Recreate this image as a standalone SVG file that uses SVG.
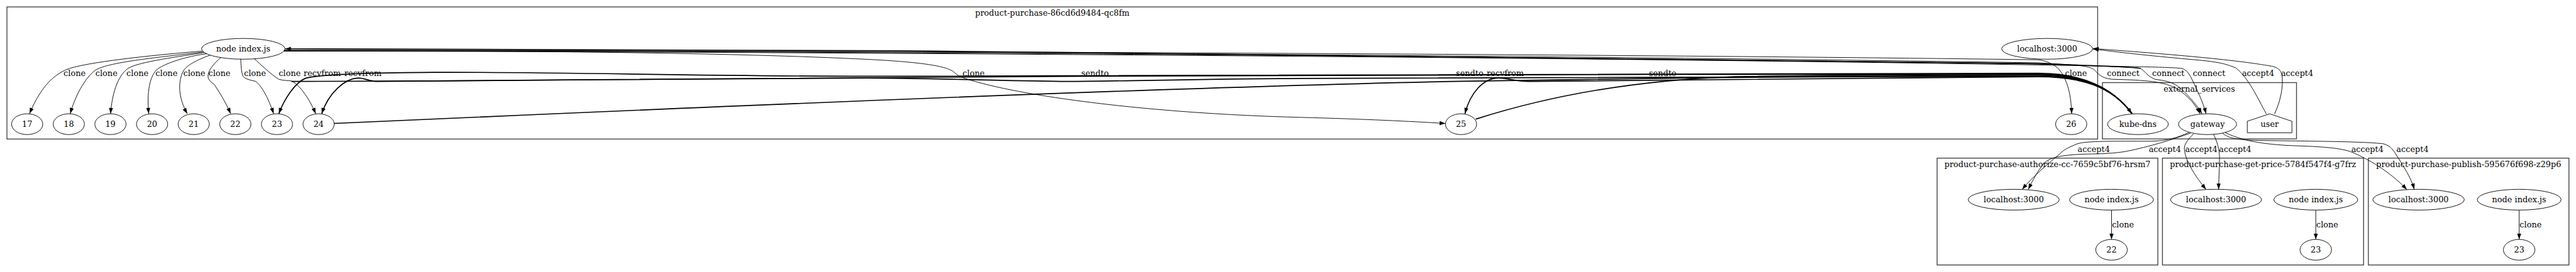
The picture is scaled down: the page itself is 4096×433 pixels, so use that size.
<svg xmlns="http://www.w3.org/2000/svg" width="4096" height="433" viewBox="0 0 4096 433">
<defs>
<style>
.cl{fill:none;stroke:#444;stroke-width:2}
.nd{fill:none;stroke:#000;stroke-width:1.33}
.t{font-family:'DejaVu Serif',serif;font-size:18.67px;fill:#000;text-anchor:middle}
.ts{font-family:'DejaVu Serif',serif;font-size:18.67px;fill:#000;text-anchor:start}
.e{fill:none;stroke:#000;stroke-width:1.33}
.b{stroke-width:2.4}
.a{marker-end:url(#ah)}
</style>
<marker id="ah" markerUnits="userSpaceOnUse" markerWidth="14" markerHeight="10" refX="13.3" refY="4.67" orient="auto" overflow="visible"><path d="M0,0 L13.3,4.67 L0,9.33 z" fill="#000"/></marker>
</defs>
<rect width="4096" height="433" fill="#fff"/>
<g transform="scale(0.68956)">
<g id="cluster_main">
<rect class="cl" x="16" y="16" width="4821" height="305"/>
<text class="t" x="2426.5" y="37">product-purchase-86cd6d9484-qc8fm</text>
</g>
<g id="cluster_external">
<rect class="cl" x="4848" y="190.7" width="447.5" height="130"/>
<text class="t" x="5071.5" y="211.7">external_services</text>
</g>
<g id="cluster_authorize">
<rect class="cl" x="4466.8" y="365" width="509" height="246.7"/>
<text class="t" x="4721.3" y="386">product-purchase-authorize-cc-7659c5bf76-hrsm7</text>
</g>
<g id="cluster_getprice">
<rect class="cl" x="4986.4" y="365" width="463.8" height="246.7"/>
<text class="t" x="5218.3" y="386">product-purchase-get-price-5784f547f4-g7frz</text>
</g>
<g id="cluster_publish">
<rect class="cl" x="5461.2" y="365" width="462.5" height="246.7"/>
<text class="t" x="5692.5" y="386">product-purchase-publish-595676f698-z29p6</text>
</g>

<g id="connectors">
<path class="e a" d="M466,118 C380,125 220,140 160,158 C115,174 88,215 68,262.5"/>
<path class="e a" d="M469,120 C390,130 250,142 220,162 C195,180 172,225 162,262.5"/>
<path class="e a" d="M472,121 C420,130 320,142 295,158 C270,176 258,220 255,262.5"/>
<path class="e a" d="M477,124 C430,130 385,145 365,158 C345,172 338,215 343,262.5"/>
<path class="e a" d="M485,127 C455,138 432,150 424,162 C410,185 410,225 432,262.5"/>
<path class="e a" d="M509,133 C495,145 482,160 480,172 C478,185 488,190 494,195 C508,215 522,240 532,262.5"/>
<path class="e a" d="M555,136 C556,150 556,165 560,175 C565,183 575,184 590,188 C605,200 620,230 631,262.5"/>
<path class="e a" d="M587,136 C600,148 625,172 643,183 C655,187 665,185 672,187 C690,195 712,225 728,262.5"/>
<path class="e a" d="M655,118 C1200,116 1700,122 2000,137 C2120,143 2180,152 2198,165 C2206,172 2210,176 2225,181 C2350,222 2650,262 3000,271 C3150,275 3250,280 3333,285"/>
<path class="e a" d="M654,117 C1500,116 3500,122 4700,138 C4720,140 4738,150 4748,160 C4768,185 4776,220 4777,262.5"/>
<path class="e a" d="M655,116 C1500,115 3500,126 4700,145 C4790,150 4815,152 4828,160 C4840,172 4845,180 4870,183 C4950,185 4990,188 5020,205 C5045,220 5065,245 5073,262.5"/>
<path class="e a" d="M655,117 C1500,117 3500,128 4700,148 C4850,153 4925,155 4936,158 C4945,163 4950,175 4969,183 C4990,186 5010,188 5030,205 C5050,225 5068,245 5077,262.5"/>
<path class="e a" d="M655,118 C1500,118 3500,130 4700,150 C4900,153 5010,155 5032,158 C5042,162 5046,168 5052,178 C5065,205 5080,235 5087,262.5"/>
<path class="e b a" d="M4936,158 C4925,155 4850,152 4700,147 C3500,125 2000,113 657.5,112.7"/>
<path class="e b" d="M672,188 L1000,187 C1500,183 2000,178 2500,176 C3000,173 4000,171 4700,171 C4800,171 4870,200 4916,262"/>
<path class="e b" d="M770,285 C1600,248 2600,205 3300,189 C3600,184 4000,176 4700,174 C4800,174 4870,200 4916,262"/>
<path class="e b a" d="M3403,275 C3600,212 3800,184 4000,177 C4300,172 4600,172 4700,172 C4800,172 4870,200 4916,262.5"/>
<path class="e b a" d="M4916,262 C4870,200 4800,169 4700,169 C3500,170 2500,176 2000,176 C1600,176 1300,166 1000,167 C850,168 740,172 706,180 C680,190 655,230 643,262.5"/>
<path class="e b a" d="M4916,262 C4870,200 4800,176 4700,176 C4000,176 3300,180 3000,181 C2700,183 2520,189 2446,188 C2300,186 2100,180 2000,180 C1600,182 1300,186 1100,186 L867,188 C850,187 840,180 826,180 C795,181 757,215 742,262.5"/>
<path class="e b a" d="M4916,262 C4870,200 4800,177 4700,177 C4200,178 3800,184 3525,188 C3495,188 3475,180 3456,180 C3420,180 3390,215 3378,262.5"/>
<path class="e a" d="M5226,263 C5205,225 5185,180 5156,157 C5130,146 5110,142 5050,137 C4950,128 4880,120 4826,113"/>
<path class="e a" d="M5245,263 C5258,235 5266,200 5262,172 C5258,160 5250,155 5239,153 C5150,137 5000,125 4826,112"/>
<path class="e a" d="M5049,305 C5020,318 5000,325 4960,326 C4880,326 4810,325 4790,332 C4770,340 4760,345 4750,355 C4720,380 4685,410 4663,437.4"/>
<path class="e a" d="M5052,307 C5010,322 4960,338 4900,350 C4860,356 4830,355 4800,356 C4760,358 4730,362 4715,375 C4700,392 4688,415 4677,437.1"/>
<path class="e a" d="M5058,309 C5045,322 5035,335 5037,345 C5040,375 5065,410 5087,437.6"/>
<path class="e a" d="M5104,310 C5112,325 5118,345 5118,365 C5118,390 5116,415 5116,437.2"/>
<path class="e a" d="M5131,306 C5160,320 5200,332 5280,336 C5340,338 5390,340 5420,350 C5470,370 5520,405 5550,437.8"/>
<path class="e a" d="M5125,308 C5140,318 5150,322 5200,324 C5300,326 5450,326 5496,332 C5510,336 5515,342 5522,352 C5540,380 5560,410 5567,437.1"/>
<path class="e a" d="M4869,485 L4869,552.7"/>
<path class="e a" d="M5340,485 L5340,552.7"/>
<path class="e a" d="M5809,485 L5809,552.7"/>
<g id="edge_labels">
<text class="t" x="172" y="175">clone</text>
<text class="t" x="245.5" y="175">clone</text>
<text class="t" x="317" y="175">clone</text>
<text class="t" x="384" y="175">clone</text>
<text class="t" x="448" y="175">clone</text>
<text class="t" x="506" y="175">clone</text>
<text class="t" x="588" y="175">clone</text>
<text class="t" x="668" y="175">clone</text>
<text class="t" x="743" y="175">recvfrom</text>
<text class="t" x="837" y="175">recvfrom</text>
<text class="t" x="2245" y="175">clone</text>
<text class="t" x="2525" y="175">sendto</text>
<text class="t" x="3389" y="175">sendto</text>
<text class="t" x="3471" y="175">recvfrom</text>
<text class="t" x="3834" y="175">sendto</text>
<text class="t" x="4787" y="175">clone</text>
<text class="t" x="4896" y="175">connect</text>
<text class="t" x="5000" y="175">connect</text>
<text class="t" x="5094" y="175">connect</text>
<text class="t" x="5207" y="175">accept4</text>
<text class="t" x="5297" y="175">accept4</text>
<text class="t" x="4828" y="351">accept4</text>
<text class="t" x="4992" y="351">accept4</text>
<text class="t" x="5076" y="351">accept4</text>
<text class="t" x="5154" y="351">accept4</text>
<text class="t" x="5459" y="351">accept4</text>
<text class="t" x="5563" y="351">accept4</text>
<text class="ts" x="4870" y="525">clone</text>
<text class="ts" x="5341" y="525">clone</text>
<text class="ts" x="5810" y="525">clone</text>
</g>
</g>

<g id="main_node_index"><ellipse class="nd" cx="561" cy="112.7" rx="96.3" ry="24"/><text class="t" x="561" y="118.5">node index.js</text></g>
<g id="main_localhost"><ellipse class="nd" cx="4720.6" cy="112.7" rx="105" ry="24"/><text class="t" x="4720.6" y="118.5">localhost:3000</text></g>
<g id="n17"><ellipse class="nd" cx="62.7" cy="286.7" rx="36" ry="24"/><text class="t" x="62.7" y="292.5">17</text></g>
<g id="n18"><ellipse class="nd" cx="158.7" cy="286.7" rx="36" ry="24"/><text class="t" x="158.7" y="292.5">18</text></g>
<g id="n19"><ellipse class="nd" cx="254.7" cy="286.7" rx="36" ry="24"/><text class="t" x="254.7" y="292.5">19</text></g>
<g id="n20"><ellipse class="nd" cx="350.7" cy="286.7" rx="36" ry="24"/><text class="t" x="350.7" y="292.5">20</text></g>
<g id="n21"><ellipse class="nd" cx="446.7" cy="286.7" rx="36" ry="24"/><text class="t" x="446.7" y="292.5">21</text></g>
<g id="n22"><ellipse class="nd" cx="542.7" cy="286.7" rx="36" ry="24"/><text class="t" x="542.7" y="292.5">22</text></g>
<g id="n23"><ellipse class="nd" cx="638.7" cy="286.7" rx="36" ry="24"/><text class="t" x="638.7" y="292.5">23</text></g>
<g id="n24"><ellipse class="nd" cx="734.7" cy="286.7" rx="36" ry="24"/><text class="t" x="734.7" y="292.5">24</text></g>
<g id="n25"><ellipse class="nd" cx="3369" cy="286.7" rx="36" ry="24"/><text class="t" x="3369" y="292.5">25</text></g>
<g id="n26"><ellipse class="nd" cx="4776" cy="286.7" rx="36" ry="24"/><text class="t" x="4776" y="292.5">26</text></g>
<g id="kube_dns"><ellipse class="nd" cx="4930" cy="286.7" rx="70" ry="24"/><text class="t" x="4930" y="292.5">kube-dns</text></g>
<g id="gateway"><ellipse class="nd" cx="5090.4" cy="286.7" rx="67" ry="24"/><text class="t" x="5090.4" y="292.5">gateway</text></g>
<g id="user"><polygon class="nd" points="5285,306.5 5285,280 5233.6,262.7 5182,280 5182,306.5"/><text class="t" x="5233.6" y="292.5">user</text></g>
<g id="auth_localhost"><ellipse class="nd" cx="4643.5" cy="461" rx="105" ry="24"/><text class="t" x="4643.5" y="466.8">localhost:3000</text></g>
<g id="auth_node"><ellipse class="nd" cx="4869" cy="461" rx="96.8" ry="24"/><text class="t" x="4869" y="466.8">node index.js</text></g>
<g id="auth_22"><ellipse class="nd" cx="4869" cy="576.7" rx="36.4" ry="24"/><text class="t" x="4869" y="582.5">22</text></g>
<g id="price_localhost"><ellipse class="nd" cx="5110" cy="461" rx="105" ry="24"/><text class="t" x="5110" y="466.8">localhost:3000</text></g>
<g id="price_node"><ellipse class="nd" cx="5340" cy="461" rx="96.8" ry="24"/><text class="t" x="5340" y="466.8">node index.js</text></g>
<g id="price_23"><ellipse class="nd" cx="5340" cy="576.7" rx="36.4" ry="24"/><text class="t" x="5340" y="582.5">23</text></g>
<g id="publish_localhost"><ellipse class="nd" cx="5577" cy="461" rx="105.5" ry="24"/><text class="t" x="5577" y="466.8">localhost:3000</text></g>
<g id="publish_node"><ellipse class="nd" cx="5809" cy="461" rx="96.8" ry="24"/><text class="t" x="5809" y="466.8">node index.js</text></g>
<g id="publish_23"><ellipse class="nd" cx="5809" cy="576.7" rx="36.4" ry="24"/><text class="t" x="5809" y="582.5">23</text></g>
</g>
</svg>
